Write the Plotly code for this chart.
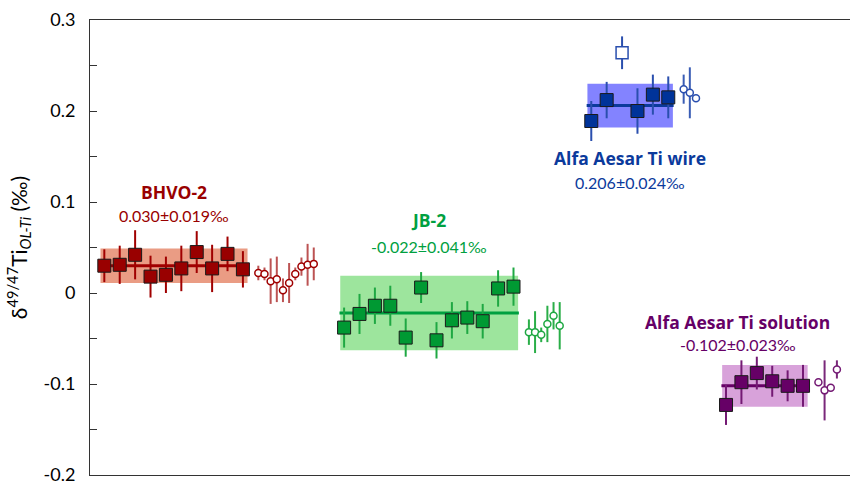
import plotly.graph_objects as go

# ---- data -------------------------------------------------------------
groups = ["BHVO-2", "JB-2", "Alfa Aesar Ti wire", "Alfa Aesar Ti solution"]
group_mean = [0.030, -0.022, 0.206, -0.102]
group_sd = [0.019, 0.041, 0.024, 0.023]

bhvo_sq = [0.030, 0.031, 0.042, 0.018, 0.020, 0.027, 0.045, 0.027, 0.043, 0.026]
bhvo_sq_err = [0.018, 0.021, 0.027, 0.023, 0.020, 0.025, 0.023, 0.026, 0.019, 0.020]
bhvo_ci = [0.022, 0.021, 0.013, 0.015, 0.003, 0.011, 0.021, 0.029, 0.031, 0.032]
bhvo_ci_err = [0.008, 0.007, 0.025, 0.025, 0.013, 0.022, 0.007, 0.010, 0.023, 0.018]

jb2_sq = [-0.038, -0.023, -0.014, -0.014, -0.049, 0.006, -0.052, -0.030, -0.027, -0.031, 0.005, 0.007]
jb2_sq_err = [0.022, 0.022, 0.020, 0.022, 0.021, 0.017, 0.020, 0.020, 0.018, 0.019, 0.020, 0.021]
jb2_ci = [-0.043, -0.043, -0.046, -0.034, -0.025, -0.036]
jb2_ci_err = [0.014, 0.023, 0.008, 0.020, 0.015, 0.026]

wire_sq = [0.189, 0.212, 0.264, 0.200, 0.218, 0.215]
wire_sq_err = [0.022, 0.020, 0.018, 0.025, 0.022, 0.023]
wire_excluded = [2]
wire_ci = [0.224, 0.220, 0.214]
wire_ci_err = [0.016, 0.028, 0.004]

sol_sq = [-0.123, -0.098, -0.088, -0.097, -0.102, -0.102]
sol_sq_err = [0.022, 0.024, 0.018, 0.017, 0.017, 0.023]
sol_ci = [-0.098, -0.107, -0.104, -0.084]
sol_ci_err = [0.004, 0.033, 0.004, 0.010]

y_tick_vals = [-0.2, -0.1, 0, 0.1, 0.2, 0.3]
y_tick_text = ["-0.2", "-0.1", "0", "0.1", "0.2", "0.3"]

# ---- layout / style ---------------------------------------------------
FONT = "Lato"
HEAD_FONT = "Open Sans"
group_start = [0.93, 16.5, 32.55, 41.3]   # x of first square in each group
CIRCLE_STEP = 0.4
styles = [
    dict(fill="#990000", bar="#A00000", ring="#A00000", soft="rgba(160,10,10,0.7)",
         band="#EA9C84", text="#990000", line="#A00000"),
    dict(fill="#009933", bar="#1FA843", ring="#1FA843", soft="#2AAE48",
         band="#9DE59D", text="#00A040", line="#00A040"),
    dict(fill="#003399", bar="#2A4FAE", ring="#2A4FAE", soft="#3A5DB5",
         band="#8383FF", text="#0B3A9C", line="#0B3A9C"),
    dict(fill="#660066", bar="#741A74", ring="#741A74", soft="#7A287A",
         band="#D8A2DA", text="#660066", line="#660066"),
]
label_pos = [(5.45, 0.111, 0.085), (22.0, 0.080, 0.051), (35.06, 0.148, 0.121), (42.05, -0.032, -0.057)]

sq_sets = [bhvo_sq, jb2_sq, wire_sq, sol_sq]
sq_errs = [bhvo_sq_err, jb2_sq_err, wire_sq_err, sol_sq_err]
ci_sets = [bhvo_ci, jb2_ci, wire_ci, sol_ci]
ci_errs = [bhvo_ci_err, jb2_ci_err, wire_ci_err, sol_ci_err]
excluded = [[], [], wire_excluded, []]

fig = go.Figure()
shapes = []
annotations = []

for g in range(len(groups)):
    st = styles[g]
    x0 = group_start[g]
    sq = sq_sets[g]
    n = len(sq)
    xs = [x0 + i for i in range(n)]

    # mean ± sd band and mean line
    shapes.append(dict(type="rect", xref="x", yref="y", layer="below",
                       x0=xs[0] - 0.25, x1=xs[-1] + 0.3,
                       y0=group_mean[g] - group_sd[g], y1=group_mean[g] + group_sd[g],
                       fillcolor=st["band"], line=dict(width=0)))
    shapes.append(dict(type="line", xref="x", yref="y", layer="below",
                       x0=xs[0] - 0.3, x1=xs[-1] + 0.35,
                       y0=group_mean[g], y1=group_mean[g],
                       line=dict(color=st["line"], width=3)))

    keep = [i for i in range(n) if i not in excluded[g]]
    drop = [i for i in range(n) if i in excluded[g]]

    fig.add_trace(go.Scatter(
        x=[xs[i] for i in keep], y=[sq[i] for i in keep], mode="markers",
        marker=dict(symbol="square", size=13, color=st["fill"],
                    line=dict(color="#1a1a1a", width=1)),
        error_y=dict(type="data", array=[sq_errs[g][i] for i in keep],
                     color=st["bar"], thickness=2, width=0),
        showlegend=False, hoverinfo="skip"))
    if drop:
        fig.add_trace(go.Scatter(
            x=[xs[i] for i in drop], y=[sq[i] for i in drop], mode="markers",
            marker=dict(symbol="square", size=12, color="white",
                        line=dict(color=st["bar"], width=1.5)),
            error_y=dict(type="data", array=[sq_errs[g][i] for i in drop],
                         color=st["bar"], thickness=2, width=0),
            showlegend=False, hoverinfo="skip"))

    ci = ci_sets[g]
    cx = [xs[-1] + 1 + CIRCLE_STEP * i for i in range(len(ci))]
    fig.add_trace(go.Scatter(
        x=cx, y=ci, mode="markers",
        marker=dict(symbol="circle", size=7, color="white",
                    line=dict(color=st["ring"], width=1.5)),
        error_y=dict(type="data", array=ci_errs[g], color=st["soft"],
                     thickness=2, width=0),
        showlegend=False, hoverinfo="skip"))

    lx, ly1, ly2 = label_pos[g]
    annotations.append(dict(x=lx, y=ly1, xref="x", yref="y", showarrow=False,
                            text="<b>%s</b>" % groups[g],
                            font=dict(family=HEAD_FONT, size=17.5, color=st["text"])))
    annotations.append(dict(x=lx, y=ly2, xref="x", yref="y", showarrow=False,
                            text="%.3f±%.3f‰" % (group_mean[g], group_sd[g]),
                            font=dict(family=FONT, size=16, color=st["text"])))

fig.update_layout(
    width=850, height=481,
    margin=dict(l=90, r=0, t=20, b=6),
    paper_bgcolor="white", plot_bgcolor="white",
    font=dict(family=FONT, color="black"),
    shapes=shapes, annotations=annotations,
    xaxis=dict(range=[0, 760 / 15.4], showgrid=False, zeroline=False,
               showticklabels=False, ticks="", showline=True, mirror=True,
               linecolor="#333333", linewidth=1, automargin=False),
    yaxis=dict(range=[-0.2, 0.3], showgrid=False, zeroline=False,
               tickvals=y_tick_vals, ticktext=y_tick_text,
               ticks="inside", ticklen=7, tickcolor="#333333",
               minor=dict(dtick=0.05, ticks="inside", ticklen=7, tickcolor="#333333"),
               showline=True, linecolor="#333333", linewidth=1,
               tickfont=dict(family=FONT, size=18, color="black"),
               ticklabelstandoff=10, ticklabeloverflow="allow", automargin=False,
               title=dict(text="δ<sup>49/47</sup>Ti<sub><i>OL-Ti</i></sub> (‰)",
                          font=dict(family=FONT, size=21, color="black"),
                          standoff=10)),
)

fig.write_html("out.html")
